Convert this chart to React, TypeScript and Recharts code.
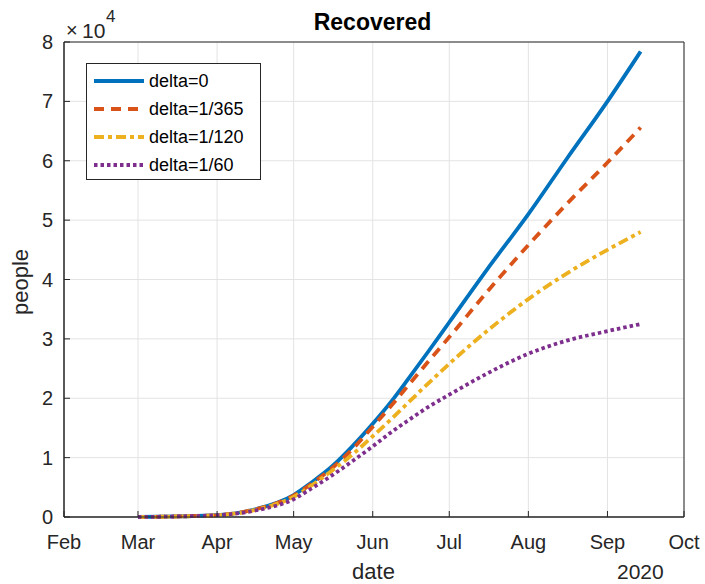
import React from "react";
import {
  LineChart,
  Line,
  XAxis,
  YAxis,
  CartesianGrid,
  Legend,
  ReferenceArea,
} from "recharts";

// days counted from 1 Feb 2020
const monthTicks = [0, 29, 60, 90, 121, 151, 182, 213, 243];
const monthNames = ["Feb", "Mar", "Apr", "May", "Jun", "Jul", "Aug", "Sep", "Oct"];
const yTicks = [0, 10000, 20000, 30000, 40000, 50000, 60000, 70000, 80000];

const days = [29, 45, 60, 75, 90, 97, 105, 113, 121, 128, 135, 143, 151, 166, 182, 197, 213, 226];
// values in units of 1e4 people
const delta0 = [0, 0.01, 0.03, 0.13, 0.37, 0.58, 0.85, 1.19, 1.57, 1.93, 2.33, 2.8, 3.28, 4.18, 5.1, 6.03, 7.0, 7.84];
const delta365 = [0, 0.01, 0.03, 0.13, 0.36, 0.56, 0.82, 1.14, 1.52, 1.86, 2.22, 2.63, 3.03, 3.8, 4.58, 5.27, 5.97, 6.56];
const delta120 = [0, 0.01, 0.03, 0.12, 0.34, 0.53, 0.78, 1.05, 1.36, 1.64, 1.93, 2.26, 2.58, 3.14, 3.67, 4.1, 4.5, 4.8];
const delta60 = [0, 0.01, 0.03, 0.11, 0.3, 0.48, 0.7, 0.94, 1.19, 1.42, 1.63, 1.86, 2.06, 2.42, 2.75, 2.97, 3.13, 3.25];

const data = days.map((d, i) => ({
  day: d,
  d0: delta0[i] * 1e4,
  d365: delta365[i] * 1e4,
  d120: delta120[i] * 1e4,
  d60: delta60[i] * 1e4,
}));

const FONT = '"Liberation Sans", Arial, Helvetica, sans-serif';
const AX = "#262626";

const series = [
  { key: "d0", name: "delta=0", color: "#0072BD", dash: undefined },
  { key: "d365", name: "delta=1/365", color: "#D95319", dash: "10 7" },
  { key: "d120", name: "delta=1/120", color: "#EDB120", dash: "10 4 4 4" },
  { key: "d60", name: "delta=1/60", color: "#7E2F8E", dash: "3.5 3" },
];

function LegendBox() {
  return (
    <div
      style={{
        border: "1px solid #262626",
        background: "#fff",
        width: 175,
        height: 117,
        boxSizing: "border-box",
        padding: "3px 0 0 6px",
        fontFamily: FONT,
        fontSize: 18,
        color: "#000",
      }}
    >
      {series.map((s) => (
        <div key={s.key} style={{ display: "flex", alignItems: "center", height: 28 }}>
          <svg width={52} height={10} style={{ marginRight: 4 }}>
            <line
              x1={1}
              y1={5}
              x2={51}
              y2={5}
              stroke={s.color}
              strokeWidth={3.8}
              strokeDasharray={s.dash}
            />
          </svg>
          <span>{s.name}</span>
        </div>
      ))}
    </div>
  );
}

export default function App() {
  const txt: React.CSSProperties = {
    position: "absolute",
    fontFamily: FONT,
    color: AX,
    whiteSpace: "nowrap",
    lineHeight: 1,
  };
  return (
    <div style={{ position: "absolute", left: 0, top: 0, width: 705, height: 584, background: "#fff", overflow: "hidden" }}>
      <LineChart
        width={705}
        height={584}
        data={data}
        margin={{ top: 42, right: 21, left: 0, bottom: 0 }}
      >
        <CartesianGrid stroke="#e3e3e3" strokeWidth={1} vertical horizontal />
        <XAxis
          dataKey="day"
          type="number"
          domain={[0, 243]}
          ticks={monthTicks}
          tickFormatter={(v: number) => monthNames[monthTicks.indexOf(v)]}
          height={67}
          stroke={AX}
          tickSize={-6}
          tickMargin={24}
          tick={{ fill: AX, fontSize: 20, fontFamily: FONT }}
          interval={0}
        />
        <XAxis
          xAxisId="top"
          orientation="top"
          type="number"
          domain={[0, 243]}
          ticks={monthTicks}
          tickFormatter={() => ""}
          height={0}
          stroke={AX}
          tickSize={-6}
        />
        <YAxis
          type="number"
          domain={[0, 80000]}
          ticks={yTicks}
          tickFormatter={(v: number) => String(v / 1e4)}
          width={64}
          stroke={AX}
          tickSize={-6}
          tickMargin={17}
          tick={{ fill: AX, fontSize: 20, fontFamily: FONT }}
          interval={0}
        />
        <YAxis
          yAxisId="right"
          orientation="right"
          type="number"
          domain={[0, 80000]}
          ticks={yTicks}
          tickFormatter={() => ""}
          width={0}
          stroke={AX}
          tickSize={-6}
        />
        <ReferenceArea
          x1={0}
          x2={243}
          y1={0}
          y2={80000}
          fill="none"
          stroke={AX}
          strokeWidth={1}
          ifOverflow="visible"
        />
        {series.map((s) => (
          <Line
            key={s.key}
            type="monotone"
            dataKey={s.key}
            name={s.name}
            stroke={s.color}
            strokeWidth={3.8}
            strokeDasharray={s.dash}
            dot={false}
            isAnimationActive={false}
          />
        ))}
        <Legend
          layout="vertical"
          align="center"
          verticalAlign="middle"
          content={() => <LegendBox />}
          wrapperStyle={{ left: 86, top: 63, width: 175 }}
        />
      </LineChart>
      <div style={{ ...txt, left: 0, width: 745, top: 10.5, textAlign: "center", fontSize: 23, fontWeight: "bold", color: "#000" }}>
        Recovered
      </div>
      <div style={{ ...txt, left: 66, top: 20, fontSize: 20 }}>×</div>
      <div style={{ ...txt, left: 82, top: 20, fontSize: 21 }}>10</div>
      <div style={{ ...txt, left: 106, top: 7.5, fontSize: 17 }}>4</div>
      <div style={{ ...txt, left: 0, width: 747, top: 561, textAlign: "center", fontSize: 22 }}>date</div>
      <div style={{ ...txt, left: 617, top: 561, fontSize: 21 }}>2020</div>
      <div
        style={{
          ...txt,
          left: 21,
          top: 282,
          fontSize: 22,
          transform: "translate(-50%, -50%) rotate(-90deg)",
        }}
      >
        people
      </div>
    </div>
  );
}
